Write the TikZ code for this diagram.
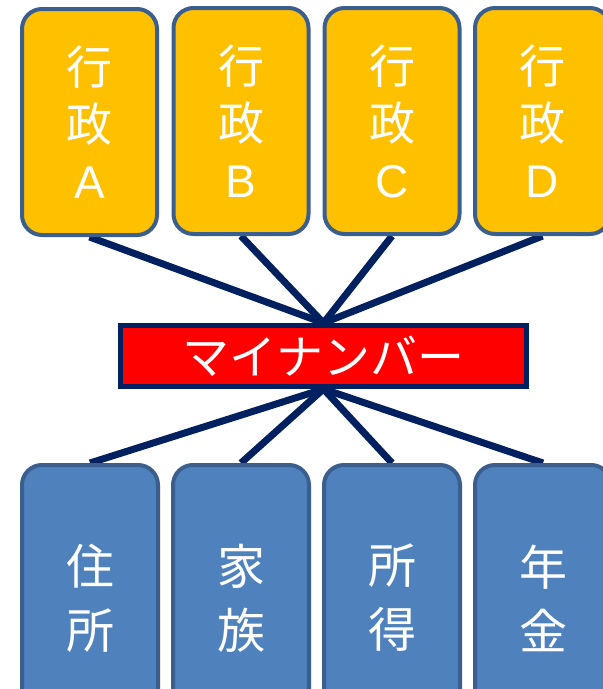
\documentclass[tikz,border=0pt]{standalone}
\usepackage{fontspec}
\newfontfamily\jp{Noto Sans CJK JP}
\newfontfamily\lat{Liberation Sans}
\usetikzlibrary{backgrounds}
\definecolor{gold}{HTML}{FFC000}
\definecolor{steel}{HTML}{4F81BD}
\definecolor{edge}{HTML}{3A5F8E}
\definecolor{navy}{HTML}{002060}
\tikzset{
  topbox/.style={draw=edge, fill=gold, line width=4pt, rounded corners=20pt,
    minimum width=135pt, minimum height=226pt, text=white, align=center,
    font=\jp\fontsize{46}{57}\selectfont, inner sep=0pt},
  botbox/.style={draw=edge, fill=steel, line width=4pt, rounded corners=20pt,
    minimum width=136pt, minimum height=266pt, text=white, align=center,
    font=\jp\fontsize{48}{64}\selectfont, inner sep=0pt},
  midbox/.style={draw=navy, fill=red, line width=5pt,
    minimum width=406pt, minimum height=61pt, text=white,
    font=\jp\fontsize{47}{56}\selectfont, inner sep=0pt},
  link/.style={draw=navy, line width=7pt}
}
\begin{document}
\begin{tikzpicture}[x=1pt,y=-1pt]
\useasboundingbox (0,0) rectangle (603,689);
\clip (0,0) rectangle (603,689);
\node[topbox] (a) at (89.5,122) {行\\政\\{\lat A}};
\node[topbox] (b) at (241,121) {行\\政\\{\lat B}};
\node[topbox] (c) at (392,121) {行\\政\\{\lat C}};
\node[topbox] (d) at (542.5,121) {行\\政\\{\lat D}};
\node[midbox] (m) at (323.5,356) {マイナンバー};
\node[botbox] (p) at (90,598) {住\\所};
\node[botbox] (q) at (241,598) {家\\族};
\node[botbox] (r) at (392,598) {所\\得};
\node[botbox] (s) at (543,598) {年\\金};
\begin{scope}[on background layer]
\fill[white] (0,0) rectangle (603,689);
\foreach \t in {a,b,c,d} \draw[link] (\t.south) -- (m.north);
\foreach \t in {p,q,r,s} \draw[link] (\t.north) -- (m.south);
\end{scope}
\end{tikzpicture}
\end{document}
